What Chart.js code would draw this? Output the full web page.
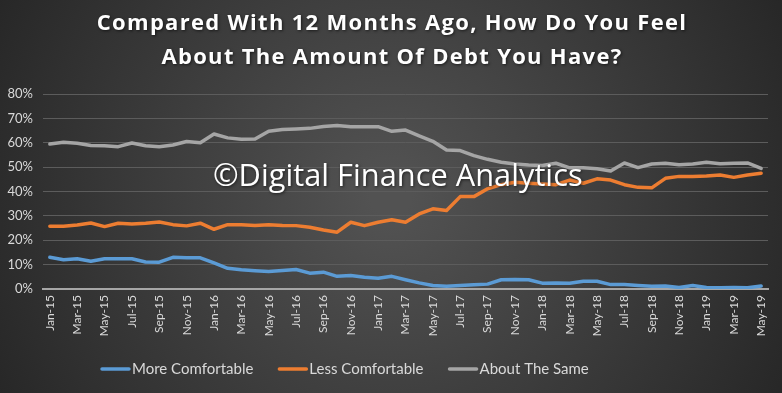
<!DOCTYPE html>
<html>
<head>
<meta charset="utf-8">
<script src="https://cdn.jsdelivr.net/npm/chart.js@4/dist/chart.umd.min.js"></script>
<style>
  html, body { margin: 0; padding: 0; background: #333; }
  #debtChart { display: block; width: 782px; height: 393px; }
</style>
</head>
<body>
<canvas id="debtChart" width="782" height="393"></canvas>
<script>
// 月份 Jan-15 .. May-19
const months = ['Jan-15','Feb-15','Mar-15','Apr-15','May-15','Jun-15','Jul-15','Aug-15','Sep-15','Oct-15','Nov-15','Dec-15',
  'Jan-16','Feb-16','Mar-16','Apr-16','May-16','Jun-16','Jul-16','Aug-16','Sep-16','Oct-16','Nov-16','Dec-16',
  'Jan-17','Feb-17','Mar-17','Apr-17','May-17','Jun-17','Jul-17','Aug-17','Sep-17','Oct-17','Nov-17','Dec-17',
  'Jan-18','Feb-18','Mar-18','Apr-18','May-18','Jun-18','Jul-18','Aug-18','Sep-18','Oct-18','Nov-18','Dec-18',
  'Jan-19','Feb-19','Mar-19','Apr-19','May-19'];

const moreComfortable = [13.0, 12.0, 12.4, 11.4, 12.4, 12.4, 12.4, 11.1, 11.0, 13.0, 12.8, 12.8,
  10.7, 8.5, 7.9, 7.5, 7.2, 7.6, 8.0, 6.5, 6.9, 5.2, 5.5, 4.8,
  4.4, 5.2, 3.8, 2.5, 1.4, 1.1, 1.4, 1.7, 2.0, 3.8, 3.9, 3.8,
  2.4, 2.5, 2.4, 3.2, 3.2, 1.8, 1.8, 1.4, 1.1, 1.2, 0.6, 1.4,
  0.6, 0.5, 0.6, 0.5, 1.2];

const lessComfortable = [25.7, 25.7, 26.3, 27.1, 25.6, 27.0, 26.7, 27.0, 27.5, 26.4, 25.9, 27.0,
  24.5, 26.4, 26.4, 26.1, 26.4, 26.1, 26.0, 25.3, 24.2, 23.3, 27.4, 26.0,
  27.4, 28.4, 27.4, 30.8, 32.9, 32.2, 37.9, 37.9, 41.1, 42.8, 43.8, 43.4,
  43.1, 42.8, 44.7, 43.4, 45.2, 44.7, 42.8, 41.7, 41.5, 45.4, 46.2, 46.2,
  46.4, 46.8, 45.8, 46.8, 47.5];

const aboutTheSame = [59.5, 60.2, 59.8, 58.9, 58.8, 58.4, 59.9, 58.8, 58.4, 59.1, 60.5, 60.0,
  63.6, 62.0, 61.4, 61.5, 64.7, 65.4, 65.6, 65.9, 66.7, 67.1, 66.6, 66.6,
  66.6, 64.7, 65.2, 62.8, 60.6, 57.0, 56.8, 54.7, 53.2, 52.0, 51.3, 50.9,
  50.7, 51.6, 49.7, 49.7, 49.3, 48.4, 51.7, 49.8, 51.3, 51.6, 51.0, 51.3,
  52.0, 51.4, 51.6, 51.7, 49.5];

const seriesNames = ['More Comfortable', 'Less Comfortable', 'About The Same'];
const seriesColors = ['#5b9bd5', '#ed7d31', '#a5a5a5'];
const titleLines = ['Compared With 12 Months Ago, How Do You Feel', 'About The Amount Of Debt You Have?'];
const watermark = '\u00A9Digital Finance Analytics';

// 背景漸層
const bgPlugin = {
  id: 'bgPlugin',
  beforeDraw(chart) {
    const { ctx, width, height } = chart;
    const g = ctx.createRadialGradient(width / 2, height / 2, 20, width / 2, height / 2, 470);
    g.addColorStop(0, 'rgb(82,82,82)');
    g.addColorStop(1, 'rgb(36,36,36)');
    ctx.save();
    ctx.fillStyle = g;
    ctx.fillRect(0, 0, width, height);
    ctx.restore();
  }
};

// 標題 + 浮水印 + 圖例 (圖例自己畫，位置跟原圖一樣偏左)
const textPlugin = {
  id: 'textPlugin',
  afterDatasetsDraw(chart) {
    const ctx = chart.ctx;
    ctx.save();
    ctx.shadowColor = 'rgba(0,0,0,0.6)';
    ctx.shadowBlur = 3;
    ctx.shadowOffsetX = 1;
    ctx.shadowOffsetY = 1;
    ctx.fillStyle = '#ffffff';

    // 標題
    ctx.font = 'bold 22px "Open Sans"';
    ctx.letterSpacing = '1.3px';
    ctx.textAlign = 'center';
    ctx.textBaseline = 'middle';
    ctx.fillText(titleLines[0], 392, 24);
    ctx.fillText(titleLines[1], 392, 58);

    // 浮水印 (寬度約 370px)
    ctx.letterSpacing = '0px';
    ctx.textAlign = 'left';
    ctx.textBaseline = 'alphabetic';
    ctx.font = '32px "Open Sans"';
    const w = ctx.measureText(watermark).width;
    const size = 32 * 370 / w;
    ctx.font = size.toFixed(1) + 'px "Open Sans"';
    ctx.fillText(watermark, 213, 186);
    ctx.restore();

    // 圖例
    ctx.save();
    ctx.font = '15px Lato';
    ctx.textBaseline = 'middle';
    ctx.textAlign = 'left';
    let x = 101;
    const y = 369;
    chart.data.datasets.forEach((ds) => {
      ctx.strokeStyle = ds.borderColor;
      ctx.lineWidth = 3.5;
      ctx.lineCap = 'round';
      ctx.beginPath();
      ctx.moveTo(x + 1, y);
      ctx.lineTo(x + 28, y);
      ctx.stroke();
      ctx.fillStyle = '#d9d9d9';
      ctx.fillText(ds.label, x + 31, y);
      x += 31 + ctx.measureText(ds.label).width + 25;
    });
    ctx.restore();
  }
};

const ctx = document.getElementById('debtChart');
new Chart(ctx, {
  type: 'line',
  data: {
    labels: months,
    datasets: [moreComfortable, lessComfortable, aboutTheSame].map((d, i) => ({
      label: seriesNames[i],
      data: d,
      borderColor: seriesColors[i],
      backgroundColor: seriesColors[i]
    }))
  },
  options: {
    responsive: false,
    animation: false,
    elements: {
      line: { borderWidth: 3.5, tension: 0, borderCapStyle: 'round', borderJoinStyle: 'round' },
      point: { radius: 0 }
    },
    layout: { padding: { left: 0, right: 14, top: 94, bottom: 54 } },
    scales: {
      x: {
        offset: true,
        grid: { display: false, drawTicks: false },
        border: { display: true, color: '#a6a6a6', width: 2 },
        ticks: {
          autoSkip: false,
          maxRotation: 90,
          minRotation: 90,
          padding: 6,
          color: '#d9d9d9',
          font: { family: 'Lato', size: 12 },
          callback(value, index) { return index % 2 === 0 ? months[index] : ''; }
        },
        afterFit(scale) { scale.height = 50; }
      },
      y: {
        min: 0,
        max: 80,
        grid: { color: '#5c5c5c', lineWidth: 1, drawTicks: false },
        border: { display: false },
        ticks: {
          stepSize: 10,
          padding: 10,
          color: '#d9d9d9',
          font: { family: 'Lato', size: 13 },
          callback(v) { return v + '%'; }
        },
        afterFit(scale) { scale.width = 43; }
      }
    },
    plugins: {
      title: { display: false },
      legend: { display: false },
      tooltip: { enabled: false }
    }
  },
  plugins: [bgPlugin, textPlugin]
});
</script>
</body>
</html>
